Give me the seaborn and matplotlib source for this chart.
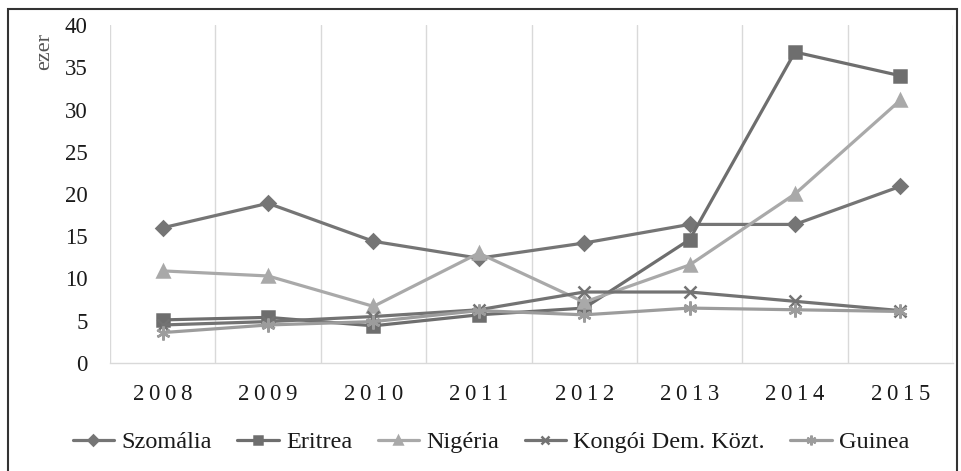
import matplotlib
matplotlib.use("Agg")
import matplotlib.pyplot as plt
import seaborn as sns
import pandas as pd
from matplotlib.patches import Rectangle
from matplotlib.font_manager import FontProperties

years = ["2008", "2009", "2010", "2011", "2012", "2013", "2014", "2015"]
szomalia = [16.0, 18.9, 14.4, 12.4, 14.2, 16.4, 16.4, 20.9]
eritrea = [5.1, 5.4, 4.4, 5.7, 6.5, 14.6, 36.8, 34.0]
nigeria = [10.9, 10.3, 6.7, 13.0, 7.2, 11.6, 20.0, 31.1]
kongoi = [4.5, 4.9, 5.5, 6.3, 8.4, 8.4, 7.3, 6.2]
guinea = [3.6, 4.5, 4.9, 6.2, 5.7, 6.5, 6.3, 6.1]
series_names = ["Szomália", "Eritrea", "Nigéria", "Kongói Dem. Közt.", "Guinea"]
y_ticks = [0, 5, 10, 15, 20, 25, 30, 35, 40]

values = [szomalia, eritrea, nigeria, kongoi, guinea]
rows = []
for name, vals in zip(series_names, values):
    for i, v in enumerate(vals):
        rows.append({"pos": i, "year": years[i], "value": v, "series": name})
df = pd.DataFrame(rows)

sns.set_theme(style="white")
plt.rcParams['font.family'] = ['Liberation Serif', 'DejaVu Serif']

palette = {"Szomália": "#757575", "Eritrea": "#6e6e6e", "Nigéria": "#a9a9a9",
           "Kongói Dem. Közt.": "#737373", "Guinea": "#9c9c9c"}
markers = {"Szomália": "D", "Eritrea": "s", "Nigéria": "^",
           "Kongói Dem. Közt.": "x", "Guinea": (6, 2, 0)}
msizes = {"Szomália": 7, "Eritrea": 9, "Nigéria": 9,
          "Kongói Dem. Közt.": 9, "Guinea": 10}

fig = plt.figure(figsize=(9.62, 4.71), dpi=100)
ax = fig.add_axes([110/962, 1-363/471, (953-110)/962, (363-25)/471])

for name in series_names:
    sub = df[df["series"] == name]
    sns.lineplot(data=sub, x="pos", y="value", ax=ax, color=palette[name],
                 marker=markers[name], markersize=msizes[name], linewidth=2.3,
                 markeredgecolor=palette[name], markeredgewidth=1.8,
                 label=name, legend=False)

tick_color = "#1a1a1a"
ax.set_xlim(-0.5, len(years) - 0.5)
ax.set_ylim(0, 40)
ax.set_yticks(y_ticks)
ax.set_yticklabels([str(t) for t in y_ticks], fontsize=16.5, color=tick_color)
ax.set_xticks(range(len(years)))
ax.set_xticklabels(["\u2009".join(y) for y in years], fontsize=16.5, color=tick_color)
ax.set_xticks([i - 0.5 for i in range(len(years) + 1)], minor=True)
ax.grid(False)
ax.grid(True, which="minor", axis="x", color="#d9d9d9", linewidth=1)
ax.tick_params(axis="both", which="both", length=0)
ax.tick_params(axis="y", pad=16)
ax.tick_params(axis="x", pad=15)
ax.set_xlabel("")
ax.set_ylabel("")
for s in ["top", "right", "left"]:
    ax.spines[s].set_visible(False)
ax.spines["bottom"].set_color("#d9d9d9")
ax.spines["bottom"].set_linewidth(1)

ax.text(45/962, 1-52/471, "ezer", transform=fig.transFigure, rotation=90,
        ha="center", va="center", fontsize=16, color="#555555",
        family=['Liberation Serif', 'DejaVu Serif'])

handles, labels = ax.get_legend_handles_labels()
leg_font = FontProperties(family=['Liberation Serif', 'DejaVu Serif'], size=17.5)
leg = fig.legend(handles, labels, loc="center", bbox_to_anchor=(491/962, 1-442/471),
                 ncol=5, frameon=False, prop=leg_font, handlelength=1.7,
                 handletextpad=0.3, columnspacing=1.05, markerscale=0.7)
for t in leg.get_texts():
    t.set_color(tick_color)

fig.patches.append(Rectangle((8/962, -0.05), (957-8)/962, 1-9/471+0.05,
                             transform=fig.transFigure, fill=False,
                             edgecolor="#333333", linewidth=1.5, zorder=10))

fig.savefig("out.png", dpi=100)
